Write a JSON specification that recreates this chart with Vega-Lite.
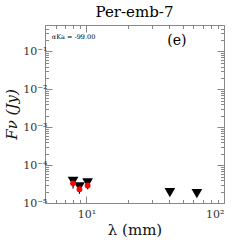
{
  "$schema": "https://vega.github.io/schema/vega-lite/v6.json",
  "autosize": {"type": "none"},
  "padding": {"left": 45, "top": 25, "right": 25, "bottom": 46},
  "width": 179,
  "height": 178,
  "background": "white",
  "title": {"text": "Per-emb-7", "font": "DejaVu Serif", "fontSize": 15, "fontWeight": "normal", "color": "#000", "offset": 5},
  "config": {
    "view": {"stroke": "#888", "strokeWidth": 1},
    "axis": {"domain": false, "grid": false, "labelFont": "DejaVu Serif", "labelFontSize": 11, "labelColor": "#333", "titleFont": "DejaVu Serif", "titleFontWeight": "normal", "titleColor": "#111", "tickColor": "#888", "tickWidth": 1}
  },
  "datasets": {
    "pts": [
      {"lam": 8.0, "lim": 3.7e-5, "flux": 3.3e-5, "lo": 2.4e-5, "hi": 3.9e-5},
      {"lam": 8.9, "lim": 2.67e-5, "flux": 2.32e-5, "lo": 1.75e-5, "hi": 2.8e-5},
      {"lam": 10.2, "lim": 3.4e-5, "flux": 2.9e-5, "lo": 2.3e-5, "hi": 3.5e-5},
      {"lam": 40.4, "lim": 1.88e-5},
      {"lam": 63.5, "lim": 1.77e-5}
    ],
    "notes": [
      {"x": 45.4, "y": 0.185, "label": "(e)", "kind": "panel"},
      {"x": 5.6, "y": 0.236, "label": "αKa = -99.00", "kind": "alpha"}
    ]
  },
  "resolve": {"axis": {"x": "independent", "y": "independent"}},
  "layer": [
    {
      "data": {"name": "pts"},
      "mark": {"type": "point", "shape": "triangle-down", "filled": true, "color": "#000", "size": 115, "opacity": 1},
      "encoding": {
        "x": {"field": "lam", "type": "quantitative", "scale": {"type": "log", "domain": [5, 100], "nice": false},
          "axis": {"orient": "bottom", "title": "λ (mm)", "titleFontSize": 15, "titlePadding": 3,
            "values": [5,6,7,8,9,10,20,30,40,50,60,70,80,90,100],
            "labelExpr": "datum.value == 10 ? '10¹' : datum.value == 100 ? '10²' : ''",
            "tickSize": {"condition": {"test": "datum.value == 10 || datum.value == 100", "value": -7}, "value": -3.5},
            "labelPadding": 12}},
        "y": {"field": "lim", "type": "quantitative", "scale": {"type": "log", "domain": [1e-5, 0.5], "nice": false},
          "axis": {"orient": "left", "title": "Fν (Jy)", "titleFontSize": 15, "titleFontStyle": "italic", "titlePadding": 3,
            "values": [1e-5,2e-5,3e-5,4e-5,5e-5,6e-5,7e-5,8e-5,9e-5,1e-4,2e-4,3e-4,4e-4,5e-4,6e-4,7e-4,8e-4,9e-4,1e-3,2e-3,3e-3,4e-3,5e-3,6e-3,7e-3,8e-3,9e-3,1e-2,2e-2,3e-2,4e-2,5e-2,6e-2,7e-2,8e-2,9e-2,0.1,0.2,0.3,0.4,0.5],
            "labelExpr": "datum.value == 1e-5 ? '10⁻⁵' : datum.value == 1e-4 ? '10⁻⁴' : datum.value == 1e-3 ? '10⁻³' : datum.value == 1e-2 ? '10⁻²' : datum.value == 0.1 ? '10⁻¹' : ''",
            "tickSize": {"condition": {"test": "datum.value == 1e-5 || datum.value == 1e-4 || datum.value == 1e-3 || datum.value == 1e-2 || datum.value == 0.1", "value": -7}, "value": -3.5},
            "labelPadding": 5}}
      }
    },
    {
      "data": {"name": "pts"},
      "transform": [{"filter": "isValid(datum.flux)"}],
      "mark": {"type": "rule", "color": "#000", "strokeWidth": 1.2},
      "encoding": {
        "x": {"field": "lam", "type": "quantitative", "scale": {"type": "log", "domain": [5, 100], "nice": false},
          "axis": {"orient": "top", "title": null, "values": [5,6,7,8,9,10,20,30,40,50,60,70,80,90,100], "labels": false,
            "tickSize": {"condition": {"test": "datum.value == 10 || datum.value == 100", "value": -7}, "value": -3.5}}},
        "y": {"field": "lo", "type": "quantitative", "scale": {"type": "log", "domain": [1e-5, 0.5], "nice": false},
          "axis": {"orient": "right", "title": null, "labels": false,
            "values": [1e-5,2e-5,3e-5,4e-5,5e-5,6e-5,7e-5,8e-5,9e-5,1e-4,2e-4,3e-4,4e-4,5e-4,6e-4,7e-4,8e-4,9e-4,1e-3,2e-3,3e-3,4e-3,5e-3,6e-3,7e-3,8e-3,9e-3,1e-2,2e-2,3e-2,4e-2,5e-2,6e-2,7e-2,8e-2,9e-2,0.1,0.2,0.3,0.4,0.5],
            "tickSize": {"condition": {"test": "datum.value == 1e-5 || datum.value == 1e-4 || datum.value == 1e-3 || datum.value == 1e-2 || datum.value == 0.1", "value": -7}, "value": -3.5}}},
        "y2": {"field": "hi"}
      }
    },
    {
      "data": {"name": "pts"},
      "transform": [{"filter": "isValid(datum.flux)"}],
      "mark": {"type": "point", "shape": "circle", "filled": true, "color": "#ff0000", "size": 34, "opacity": 1},
      "encoding": {
        "x": {"field": "lam", "type": "quantitative", "scale": {"type": "log", "domain": [5, 100], "nice": false}, "axis": null},
        "y": {"field": "flux", "type": "quantitative", "scale": {"type": "log", "domain": [1e-5, 0.5], "nice": false}, "axis": null}
      }
    },
    {
      "data": {"name": "notes"},
      "transform": [{"filter": "datum.kind == 'panel'"}],
      "mark": {"type": "text", "font": "DejaVu Serif", "fontSize": 14, "align": "center", "baseline": "middle", "color": "#000"},
      "encoding": {
        "x": {"field": "x", "type": "quantitative", "scale": {"type": "log", "domain": [5, 100], "nice": false}, "axis": null},
        "y": {"field": "y", "type": "quantitative", "scale": {"type": "log", "domain": [1e-5, 0.5], "nice": false}, "axis": null},
        "text": {"field": "label"}
      }
    },
    {
      "data": {"name": "notes"},
      "transform": [{"filter": "datum.kind == 'alpha'"}],
      "mark": {"type": "text", "font": "DejaVu Serif", "fontSize": 6.5, "align": "left", "baseline": "middle", "color": "#000"},
      "encoding": {
        "x": {"field": "x", "type": "quantitative", "scale": {"type": "log", "domain": [5, 100], "nice": false}, "axis": null},
        "y": {"field": "y", "type": "quantitative", "scale": {"type": "log", "domain": [1e-5, 0.5], "nice": false}, "axis": null},
        "text": {"field": "label"}
      }
    }
  ]
}
